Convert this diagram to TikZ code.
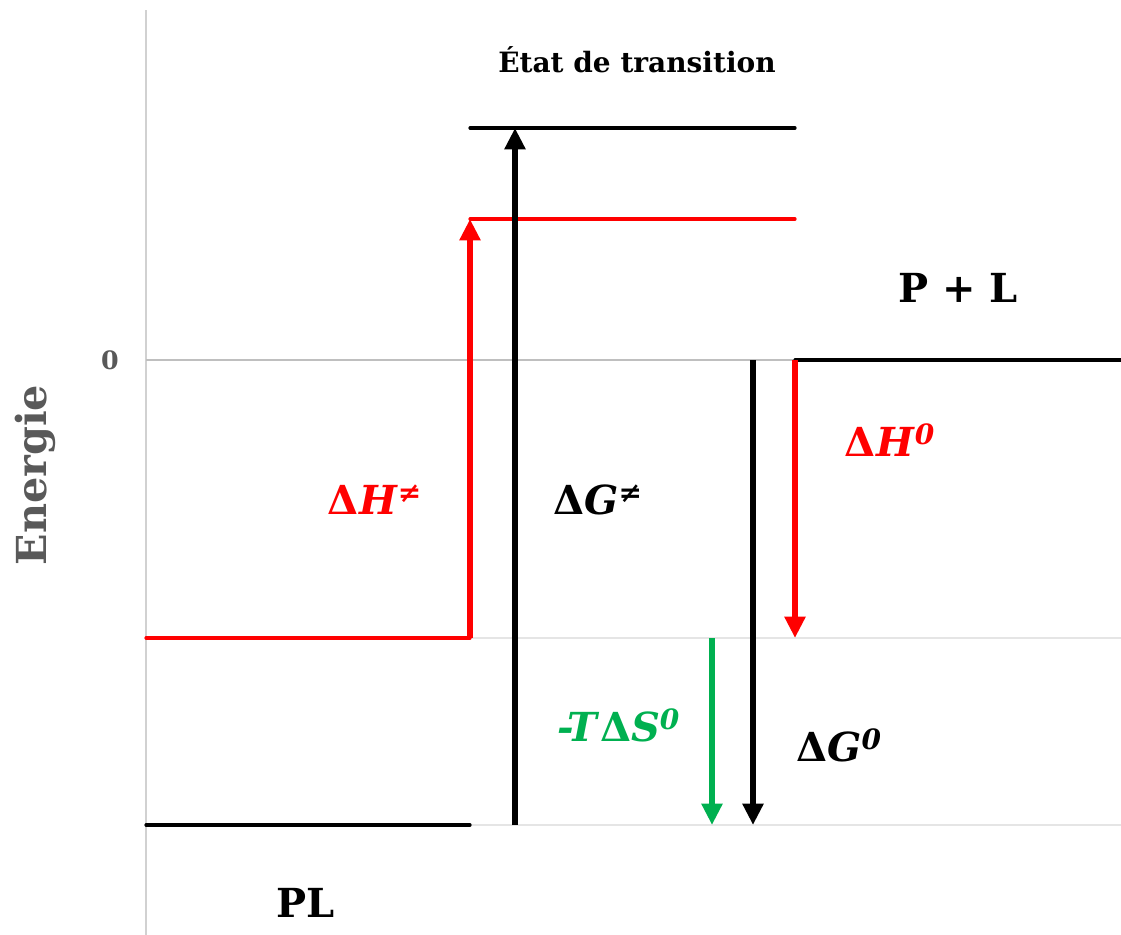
\documentclass[tikz,border=0pt]{standalone}
\usepackage{fontspec}
\setmainfont{DejaVu Serif}
\usetikzlibrary{arrows.meta, positioning}

\definecolor{axisgray}{HTML}{595959}
\definecolor{entgreen}{HTML}{00B050}

\begin{document}
\begin{tikzpicture}[
    x=0.75pt, y=-0.75pt,
    >={Triangle[length=16pt, width=15pt]},
    level/.style={line width=2.4pt, line cap=round},
    jump/.style={->, line width=4pt},
    guide/.style={draw=black!10, line width=0.9pt},
    big/.style={font=\bfseries\fontsize{30}{34}\selectfont, inner sep=0pt}
]
\useasboundingbox (0,0) rectangle (1121,935);

% level end points
\coordinate (ax-top) at (146,10);
\coordinate (ax-bot) at (146,935);
\coordinate (ts-l) at (470,128);
\coordinate (ts-r) at (795,128);
\coordinate (tsh-l) at (470,219);
\coordinate (tsh-r) at (795,219);
\coordinate (zero-l) at (146,360);
\coordinate (pl0-l) at (795,360);
\coordinate (pl0-r) at (1121,360);
\coordinate (plh-l) at (146,638);
\coordinate (plh-r) at (470,638);
\coordinate (plh-e) at (1121,638);
\coordinate (pl-l) at (146,825);
\coordinate (pl-r) at (470,825);
\coordinate (pl-e) at (1121,825);

% guides
\draw[guide, draw=black!18, line width=1.2pt] (ax-top) -- (ax-bot);
\draw[guide, draw=black!25] (zero-l) -- (pl0-r);
\draw[guide] (plh-r) -- (plh-e);
\draw[guide] (pl-r) -- (pl-e);

% levels
\draw[level] (ts-l) -- (ts-r);
\draw[level, red] (tsh-l) -- (tsh-r);
\draw[level] (pl0-l) -- (pl0-r);
\draw[level, red] (plh-l) -- (plh-r);
\draw[level] (pl-l) -- (pl-r);

% arrows
\draw[jump, red] (plh-r) -- (tsh-l);
\draw[jump] (pl-r -| 515,0) -- (ts-l -| 515,0);
\draw[jump] (zero-l -| 753,0) -- (pl-r -| 753,0);
\draw[jump, red] (pl0-l) -- (plh-r -| pl0-l);
\draw[jump, entgreen] (plh-r -| 712,0) -- (pl-r -| 712,0);

% labels
\node[font=\bfseries\fontsize{21}{25}\selectfont] (ts) at (637,60) {État de transition};
\node[big] (pl0) at (958,288) {P + L};
\node[big] (pl) at (306,903) {PL};
\node[font=\bfseries\fontsize{19}{22}\selectfont, text=axisgray] (zero) at (110,360) {0};
\node[font=\bfseries\fontsize{31}{36}\selectfont, text=axisgray, rotate=90] (en) at (35,475) {Energie};
\node[big, red] (dhts) at (375,500) {Δ\textit{H}\textsuperscript{\textit{≠}}};
\node[big] (dgts) at (598,500) {Δ\textit{G}\textsuperscript{\textit{≠}}};
\node[big, red] (dh0) at (890,440) {Δ\textit{H}\textsuperscript{\textit{0}}};
\node[big, entgreen] (ts0) at (619,725) {\textit{-T}Δ\textit{S}\textsuperscript{\textit{0}}};
\node[big] (dg0) at (839,745) {Δ\textit{G}\textsuperscript{\textit{0}}};
\end{tikzpicture}
\end{document}
